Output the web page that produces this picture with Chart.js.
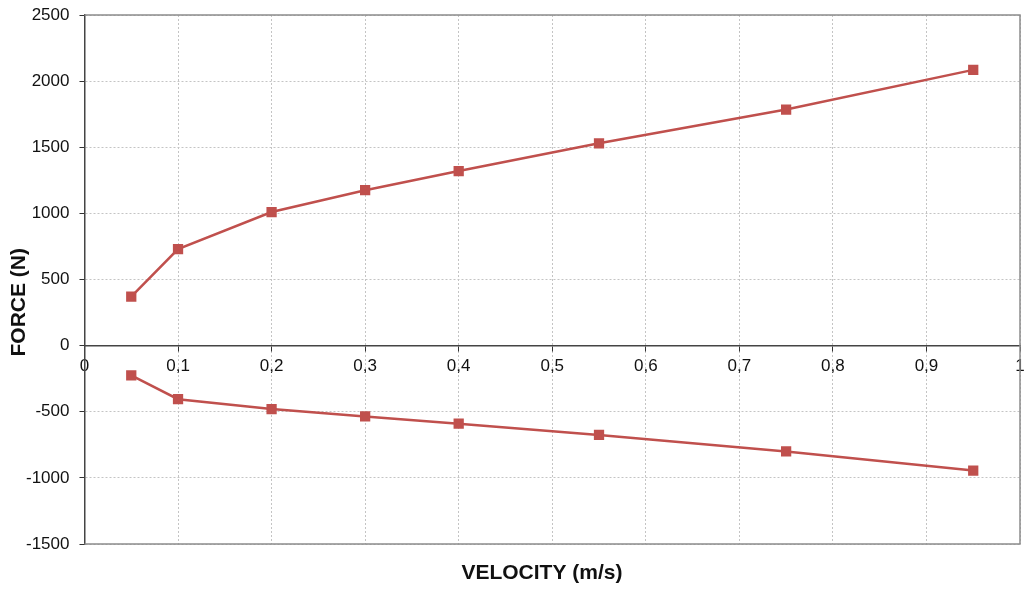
<!doctype html>
<html lang="en">
<head>
    <meta charset="utf-8">
    <title>Force vs velocity</title>
    <script src="https://cdn.jsdelivr.net/npm/chart.js@4.4.0/dist/chart.umd.min.js"></script>
    <style>
        body { margin: 0; background: #fff; }
        #chart { display: block; }
    </style>
</head>
<body>
<canvas id="chart" width="1028" height="590"></canvas>
<script>
// velocity (m/s) of each test point
var velocity = [0.05, 0.1, 0.2, 0.3, 0.4, 0.55, 0.75, 0.95];
// force, extension side and compression side
var forceUpper = [370, 730, 1010, 1175, 1320, 1530, 1785, 2085];
var forceLower = [-225, -405, -480, -535, -590, -675, -800, -945];

var xTitle = 'VELOCITY (m/s)';
var yTitle = 'FORCE (N)';

var red = '#c0504d';

function toPoints(xs, ys) {
    var pts = [];
    for (var i = 0; i < xs.length; i++) {
        pts.push({x: xs[i], y: ys[i]});
    }
    return pts;
}

// grey frame round the plot area and the two axis titles
// (titles sit a bit off-centre in the original, so they are placed by hand)
var frame = {
    id: 'frame',
    afterDraw: function(chart) {
        var a = chart.chartArea, ctx = chart.ctx;
        ctx.save();
        ctx.strokeStyle = '#8c8c8c';
        ctx.lineWidth = 1.5;
        ctx.beginPath();
        ctx.moveTo(a.left, a.top);
        ctx.lineTo(a.right, a.top);
        ctx.lineTo(a.right, a.bottom);
        ctx.lineTo(a.left, a.bottom);
        ctx.stroke();

        ctx.fillStyle = '#111';
        ctx.font = 'bold 21px "Liberation Sans", Arial';
        ctx.textAlign = 'center';
        ctx.textBaseline = 'middle';
        ctx.fillText(xTitle, a.left + (a.right - a.left) * 0.489, a.bottom + 29);

        ctx.translate(19, a.top + (a.bottom - a.top) * 0.543);
        ctx.rotate(-Math.PI / 2);
        ctx.fillText(yTitle, 0, 0);
        ctx.restore();
    }
};

// let the edge labels hang outside the plot like in the original
function noOverflow(scale) {
    scale.paddingTop = 0;
    scale.paddingBottom = 0;
    scale.paddingLeft = 0;
    scale.paddingRight = 0;
}

var common = {
    type: 'line',
    showLine: true,
    borderColor: red,
    backgroundColor: red,
    borderWidth: 2.5,
    pointStyle: 'rect',
    pointRadius: 5.5,
    pointHoverRadius: 5.5,
    tension: 0
};

var tickFont = {family: 'Liberation Sans, Arial', size: 17};

new Chart(document.getElementById('chart'), {
    type: 'scatter',
    data: {
        datasets: [
            Object.assign({label: 'upper', data: toPoints(velocity, forceUpper)}, common),
            Object.assign({label: 'lower', data: toPoints(velocity, forceLower)}, common)
        ]
    },
    options: {
        responsive: false,
        animation: false,
        layout: {padding: {top: 15, right: 4, left: 16, bottom: 46}},
        plugins: {legend: {display: false}, tooltip: {enabled: false}},
        scales: {
            x: {
                type: 'linear',
                min: 0,
                max: 1,
                position: {y: 0},
                afterFit: noOverflow,
                ticks: {
                    stepSize: 0.1,
                    color: '#111',
                    font: tickFont,
                    padding: 5,
                    callback: function(v) { return String(Math.round(v * 10) / 10).replace('.', ','); }
                },
                grid: {
                    color: '#c4c4c4',
                    tickColor: '#333',
                    tickLength: 5
                },
                border: {display: true, color: '#444', width: 1.5, dash: [2, 2]}
            },
            y: {
                min: -1500,
                max: 2500,
                afterFit: noOverflow,
                ticks: {
                    stepSize: 500,
                    color: '#111',
                    font: tickFont,
                    padding: 10,
                    callback: function(v) { return String(v); }
                },
                grid: {
                    color: function(ctx) { return ctx.tick && ctx.tick.value === 0 ? 'rgba(0,0,0,0)' : '#c4c4c4'; },
                    tickColor: '#333',
                    tickLength: 5
                },
                border: {display: true, color: '#444', width: 1.5, dash: [2, 2]}
            }
        }
    },
    plugins: [frame]
});
</script>
</body>
</html>
